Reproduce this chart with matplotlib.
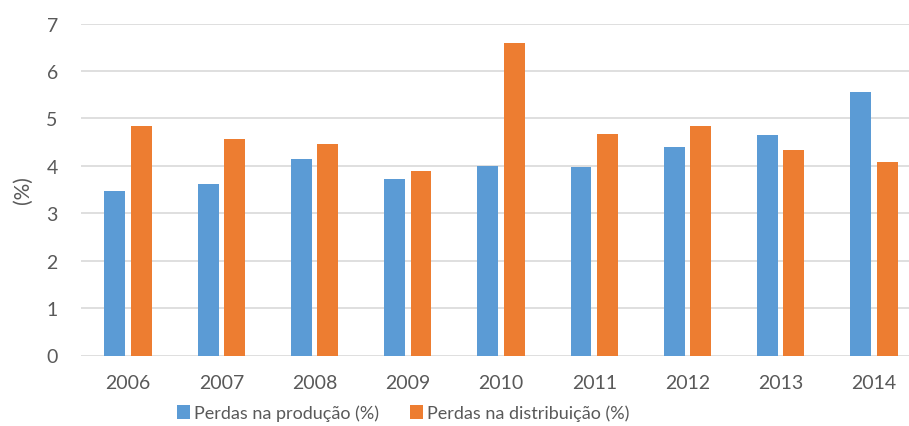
import matplotlib.pyplot as plt
import numpy as np

plt.rcParams['font.family'] = ['Lato', 'DejaVu Sans']

anos = ['2006', '2007', '2008', '2009', '2010', '2011', '2012', '2013', '2014']
producao = [3.46, 3.62, 4.14, 3.72, 4.00, 3.97, 4.40, 4.65, 5.55]
distribuicao = [4.84, 4.57, 4.45, 3.89, 6.59, 4.67, 4.84, 4.33, 4.08]

cor_texto = '#595959'
x = np.arange(len(anos))
w = 0.225
off = 0.142

fig = plt.figure(figsize=(9.09, 4.27), dpi=100)
ax = fig.add_axes([81.4/909, 70.5/427, 839.2/909, 332.0/427])

b1 = ax.bar(x - off, producao, w, color='#5B9BD5', label='Perdas na produção (%)', zorder=3)
b2 = ax.bar(x + off, distribuicao, w, color='#ED7D31', label='Perdas na distribuição (%)', zorder=3)

ax.set_xlim(-0.5, len(anos) - 0.5)
ax.set_ylim(0, 7)
ax.set_yticks(range(0, 8))
ax.set_xticks(x)
ax.set_xticklabels(anos)
ax.grid(axis='y', color='#d9d9d9', linewidth=1.2, zorder=0)
for s in ax.spines.values():
    s.set_visible(False)
ax.tick_params(axis='both', length=0, labelsize=14, labelcolor=cor_texto)
ax.tick_params(axis='y', pad=17)
ax.tick_params(axis='x', pad=13)
ax.set_ylabel('(%)', fontsize=15, color=cor_texto, labelpad=10)

fig.legend(handles=[b1, b2], loc='center', bbox_to_anchor=(403/909, 1 - 414/427),
           ncol=2, frameon=False, fontsize=13, labelcolor=cor_texto,
           handlelength=0.75, handleheight=0.75, handletextpad=0.2, columnspacing=1.7)

plt.savefig('out.png', dpi=100)
